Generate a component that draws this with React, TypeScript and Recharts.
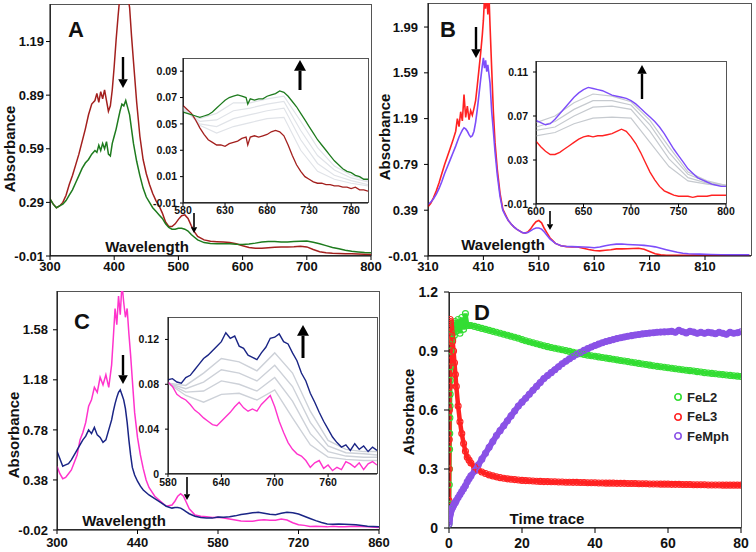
import React from 'react';
import { LineChart, Line, XAxis, YAxis } from 'recharts';

const FONT = '"Liberation Sans", Arial, sans-serif';

// ---------- panel A (main spectra) ----------
const aWave = [
  300, 305, 310, 315, 320, 325, 330, 335, 340, 345,
  350, 355, 360, 365, 370, 373, 376, 379, 382, 385,
  388, 391, 394, 397, 400, 403, 406, 409, 412, 415,
  418, 421, 424, 427, 430, 435, 440, 445, 450, 455,
  460, 465, 470, 475, 480, 485, 490, 495, 500, 505,
  510, 515, 520, 525, 530, 540, 550, 560, 570, 580,
  590, 600, 610, 620, 630, 640, 650, 660, 670, 680,
  690, 700, 710, 720, 730, 740, 750, 760, 770, 780,
  790, 800,
];
const aRed = [
  0.31, 0.28, 0.26, 0.27, 0.29, 0.33, 0.39, 0.44, 0.5, 0.56,
  0.63, 0.7, 0.78, 0.84, 0.86, 0.9, 0.85, 0.91, 0.87, 0.92,
  0.86, 0.8, 0.83, 0.92, 1.05, 1.2, 1.33, 1.45, 1.5, 1.46,
  1.52, 1.45, 1.38, 1.22, 1.08, 0.85, 0.66, 0.53, 0.45, 0.39,
  0.34, 0.3, 0.27, 0.23, 0.18, 0.155, 0.155, 0.17, 0.195, 0.215,
  0.22, 0.2, 0.16, 0.125, 0.1, 0.08, 0.072, 0.07, 0.068, 0.066,
  0.058, 0.047, 0.038, 0.034, 0.033, 0.036, 0.039, 0.04, 0.041, 0.042,
  0.045, 0.041, 0.026, 0.014, 0.008, 0.005, 0.004, 0.003, 0.002, 0.001,
  0.0, -0.001,
];
const aGreen = [
  0.31, 0.28, 0.26, 0.27, 0.28, 0.3, 0.33, 0.36, 0.4, 0.44,
  0.48, 0.51, 0.53, 0.56, 0.58, 0.57, 0.61, 0.58, 0.62, 0.59,
  0.63, 0.56, 0.55, 0.62, 0.66, 0.7, 0.75, 0.8, 0.84, 0.83,
  0.86, 0.82, 0.78, 0.7, 0.62, 0.52, 0.44, 0.37, 0.32, 0.29,
  0.26, 0.24, 0.22, 0.2, 0.17, 0.15, 0.14, 0.14, 0.145, 0.145,
  0.14, 0.13, 0.11, 0.095, 0.08, 0.065, 0.06, 0.058, 0.058, 0.058,
  0.056, 0.055, 0.057, 0.062, 0.068, 0.071, 0.071, 0.068, 0.069, 0.071,
  0.073, 0.074, 0.067, 0.058, 0.048, 0.038, 0.03, 0.022, 0.016, 0.013,
  0.01, 0.008,
];
const aXTicks = [300, 400, 500, 600, 700, 800];
const aYTicks = [-0.01, 0.29, 0.59, 0.89, 1.19];

// panel A inset
const aInWave = [
  580, 585, 590, 595, 600, 605, 610, 615, 620, 625,
  630, 635, 640, 645, 650, 655, 657, 660, 665, 670,
  675, 680, 685, 690, 695, 700, 705, 710, 715, 720,
  725, 730, 735, 740, 745, 750, 755, 760, 765, 770,
  775, 780, 785, 790, 795, 800,
];
const aInGreen = [
  0.059, 0.058, 0.057, 0.056, 0.055, 0.056, 0.057, 0.059, 0.062, 0.065,
  0.068, 0.07, 0.071, 0.072, 0.071, 0.07, 0.065, 0.069, 0.068, 0.069,
  0.069, 0.071, 0.072, 0.073, 0.075, 0.074, 0.071, 0.067, 0.063, 0.058,
  0.053, 0.048, 0.043, 0.038, 0.034, 0.03, 0.026, 0.022, 0.019, 0.016,
  0.014, 0.013, 0.011, 0.01, 0.008, 0.008,
];
const aInRed = [
  0.064, 0.061, 0.058, 0.053, 0.047, 0.042, 0.038, 0.036, 0.034, 0.034,
  0.033, 0.035, 0.036, 0.037, 0.039, 0.04, 0.034, 0.04, 0.041, 0.04,
  0.041, 0.042, 0.044, 0.045, 0.044, 0.041, 0.034, 0.026, 0.019, 0.014,
  0.01, 0.008, 0.006, 0.005, 0.005, 0.004, 0.004, 0.003, 0.003, 0.002,
  0.002, 0.001, 0.002, 0.0, 0.0, -0.001,
];
const aGrayWave = [580, 600, 620, 640, 660, 680, 700, 720, 740, 760, 780, 800];
const aGrays = [
  [0.06, 0.054, 0.058, 0.066, 0.066, 0.069, 0.071, 0.052, 0.032, 0.018, 0.011, 0.007],
  [0.061, 0.052, 0.053, 0.06, 0.062, 0.065, 0.067, 0.045, 0.026, 0.015, 0.009, 0.006],
  [0.062, 0.05, 0.048, 0.054, 0.057, 0.06, 0.062, 0.038, 0.02, 0.011, 0.007, 0.004],
  [0.063, 0.049, 0.043, 0.048, 0.051, 0.054, 0.055, 0.03, 0.014, 0.008, 0.005, 0.003],
];
const aInXTicks = [580, 630, 680, 730, 780];
const aInYTicks = [-0.01, 0.01, 0.03, 0.05, 0.07, 0.09];

// ---------- panel B ----------
const bWave = [
  310, 315, 320, 325, 330, 335, 340, 345, 350, 355,
  360, 363, 366, 369, 372, 375, 378, 381, 384, 387,
  390, 393, 396, 399, 402, 405, 408, 410, 412, 414,
  416, 418, 420, 422, 425, 428, 431, 435, 440, 445,
  450, 455, 460, 465, 470, 475, 480, 485, 490, 495,
  500, 505, 510, 515, 520, 525, 530, 540, 550, 560,
  570, 580, 590, 600, 610, 620, 630, 640, 650, 660,
  670, 680, 690, 700, 710, 720, 730, 740, 750, 760,
  770, 780, 790, 800, 820, 840, 860, 890,
];
const bRed = [
  0.42, 0.45, 0.5, 0.56, 0.63, 0.71, 0.79, 0.86, 0.93, 1.0,
  1.08, 1.19, 1.12, 1.25, 1.17, 1.4, 1.2, 1.3, 1.18, 1.26,
  1.22, 1.28, 1.35, 1.48, 1.62, 1.76, 1.92, 2.05, 2.25, 2.15,
  2.3, 2.1, 2.28, 2.0, 1.62, 1.25, 0.98, 0.75, 0.54, 0.4,
  0.35, 0.3, 0.27, 0.245, 0.225, 0.21, 0.195, 0.19, 0.2, 0.225,
  0.26, 0.29, 0.3, 0.28, 0.23, 0.19, 0.15, 0.1, 0.08, 0.072,
  0.07, 0.068, 0.058, 0.047, 0.038, 0.035, 0.04, 0.045, 0.052, 0.052,
  0.053, 0.056, 0.058, 0.049, 0.03, 0.01, 0.0, -0.003, -0.003, -0.003,
  -0.003, -0.003, -0.002, -0.002, -0.004, -0.005, -0.006, -0.006,
];
const bPurple = [
  0.44, 0.46, 0.49, 0.53, 0.58, 0.64, 0.71, 0.77, 0.83, 0.89,
  0.95, 0.99, 1.03, 1.06, 1.09, 1.11, 1.1, 1.08, 1.05, 1.03,
  1.04, 1.08, 1.16, 1.27, 1.4, 1.53, 1.65, 1.72, 1.63, 1.7,
  1.6, 1.66, 1.58, 1.5, 1.25, 1.08, 0.9, 0.7, 0.51, 0.39,
  0.34, 0.3, 0.27, 0.245, 0.225, 0.21, 0.195, 0.19, 0.195, 0.21,
  0.225, 0.235, 0.235, 0.225, 0.2, 0.17, 0.14, 0.1, 0.08, 0.073,
  0.072, 0.07, 0.068, 0.066, 0.062, 0.068, 0.08, 0.088, 0.094, 0.095,
  0.091, 0.088, 0.086, 0.083, 0.078, 0.07, 0.058, 0.045, 0.033, 0.022,
  0.014, 0.009, 0.007, 0.006, 0.003, 0.001, 0.0, 0.0,
];
const bXTicks = [310, 410, 510, 610, 710, 810];
const bYTicks = [-0.01, 0.39, 0.79, 1.19, 1.59, 1.99];

// panel B inset
const bInWave = [
  600, 605, 610, 615, 620, 625, 630, 635, 640, 645,
  650, 655, 660, 665, 670, 675, 680, 685, 690, 695,
  700, 705, 710, 715, 720, 725, 730, 735, 740, 745,
  750, 755, 760, 765, 770, 775, 780, 785, 790, 795,
  800,
];
const bInRed = [
  0.047, 0.042, 0.038, 0.035, 0.035, 0.037, 0.04, 0.043, 0.046, 0.049,
  0.051, 0.052, 0.051, 0.052, 0.052, 0.053, 0.054, 0.056, 0.058, 0.056,
  0.051, 0.045, 0.037, 0.028, 0.019, 0.012, 0.006, 0.002, 0.0, -0.002,
  -0.003, -0.003, -0.003, -0.004, -0.003, -0.003, -0.003, -0.002, -0.002, -0.002,
  -0.002,
];
const bInPurple = [
  0.066, 0.064, 0.062, 0.063, 0.067, 0.072, 0.077, 0.082, 0.087, 0.091,
  0.094, 0.096, 0.095, 0.094, 0.093, 0.091, 0.089, 0.088, 0.087, 0.086,
  0.084, 0.081, 0.077, 0.073, 0.069, 0.065, 0.06, 0.054, 0.047, 0.04,
  0.034, 0.028, 0.022, 0.018, 0.014, 0.012, 0.01, 0.008, 0.007, 0.006,
  0.006,
];
const bGrayWave = [600, 620, 640, 660, 680, 700, 720, 740, 760, 780, 800];
const bGrays = [
  [0.064, 0.07, 0.082, 0.09, 0.088, 0.083, 0.066, 0.042, 0.019, 0.011, 0.007],
  [0.06, 0.065, 0.076, 0.084, 0.084, 0.08, 0.062, 0.037, 0.017, 0.01, 0.007],
  [0.057, 0.06, 0.07, 0.078, 0.079, 0.076, 0.056, 0.031, 0.014, 0.009, 0.007],
  [0.052, 0.055, 0.063, 0.068, 0.069, 0.068, 0.046, 0.024, 0.011, 0.008, 0.006],
];
const bInXTicks = [600, 650, 700, 750, 800];
const bInYTicks = [-0.01, 0.03, 0.07, 0.11];

// ---------- panel C ----------
const cWave = [
  300, 305, 310, 315, 320, 325, 330, 335, 340, 345,
  350, 355, 360, 365, 370, 375, 380, 385, 390, 395,
  398, 401, 404, 407, 410, 413, 416, 419, 422, 425,
  428, 431, 435, 440, 445, 450, 455, 460, 470, 480,
  490, 500, 505, 510, 515, 520, 525, 530, 540, 550,
  560, 570, 580, 590, 600, 610, 620, 630, 640, 650,
  660, 670, 680, 690, 700, 710, 720, 730, 740, 750,
  760, 770, 780, 790, 800, 820, 840, 860,
];
const cMagenta = [
  0.49, 0.43, 0.39, 0.4, 0.43, 0.46, 0.52, 0.58, 0.7, 0.76,
  0.84, 0.97, 1.02, 1.12, 1.08, 1.2, 1.14, 1.22, 1.12, 1.3,
  1.52, 1.75, 1.62, 1.85, 1.7, 1.95, 1.8, 1.68, 1.75, 1.55,
  1.38, 1.18, 0.92, 0.72, 0.58, 0.47, 0.38, 0.32, 0.25, 0.21,
  0.17, 0.18, 0.21, 0.25, 0.27, 0.25, 0.2, 0.15, 0.1, 0.09,
  0.085, 0.08, 0.082, 0.075, 0.068, 0.06, 0.052, 0.05, 0.05, 0.057,
  0.062, 0.058, 0.058, 0.068, 0.06, 0.038, 0.022, 0.017, 0.008, 0.01,
  0.007, 0.005, 0.01, 0.006, 0.005, 0.009, 0.005, 0.0,
];
const cNavy = [
  0.61, 0.55, 0.49, 0.5, 0.51, 0.54, 0.58, 0.62, 0.66, 0.7,
  0.73, 0.78, 0.75, 0.8, 0.74, 0.72, 0.68, 0.7, 0.78, 0.86,
  0.93, 0.99, 1.04, 1.08, 1.1, 1.06, 1.02, 0.95, 0.84, 0.7,
  0.58, 0.48, 0.42, 0.37, 0.33, 0.3, 0.28, 0.26, 0.23, 0.2,
  0.17, 0.155, 0.16, 0.16, 0.155, 0.14, 0.125, 0.11, 0.09, 0.08,
  0.076, 0.075, 0.084, 0.082, 0.086, 0.093, 0.103, 0.11, 0.118, 0.121,
  0.114, 0.106, 0.102, 0.113, 0.122, 0.118, 0.108, 0.09, 0.072, 0.055,
  0.04, 0.028, 0.026, 0.027, 0.025, 0.022, 0.01, 0.005,
];
const cXTicks = [300, 440, 580, 720, 860];
const cYTicks = [-0.02, 0.38, 0.78, 1.18, 1.58];

// panel C inset
const cInWave = [
  580, 585, 590, 595, 600, 605, 610, 615, 620, 625,
  630, 635, 640, 645, 650, 655, 660, 665, 670, 675,
  680, 685, 690, 695, 700, 705, 710, 715, 720, 725,
  730, 735, 740, 745, 750, 755, 760, 765, 770, 775,
  780, 785, 790, 795, 800, 805, 810, 815,
];
const cInNavy = [
  0.084, 0.085, 0.082, 0.081, 0.086, 0.088, 0.093, 0.098, 0.103, 0.106,
  0.11, 0.114, 0.118, 0.126, 0.121, 0.123, 0.114, 0.112, 0.106, 0.104,
  0.102, 0.108, 0.113, 0.121, 0.122, 0.125, 0.118, 0.116, 0.108, 0.101,
  0.09, 0.083, 0.072, 0.064, 0.055, 0.047, 0.04, 0.033, 0.028, 0.024,
  0.026, 0.021, 0.027, 0.022, 0.025, 0.02, 0.024, 0.021,
];
const cInMagenta = [
  0.082, 0.078, 0.071, 0.068, 0.066, 0.062, 0.057, 0.054, 0.05, 0.047,
  0.044, 0.043, 0.047, 0.051, 0.055, 0.06, 0.064, 0.059, 0.056, 0.058,
  0.056, 0.062, 0.066, 0.07, 0.06, 0.047, 0.037, 0.028, 0.022, 0.018,
  0.016, 0.012, 0.006, 0.01, 0.012, 0.005, 0.008, 0.003, 0.006, 0.004,
  0.011, 0.009, 0.006, 0.01, 0.004, 0.009, 0.011, 0.008,
];
const cGrayWave = [580, 600, 620, 640, 660, 680, 700, 720, 740, 760, 780, 800, 815];
const cGrays = [
  [0.081, 0.079, 0.09, 0.103, 0.1, 0.092, 0.108, 0.09, 0.056, 0.03, 0.022, 0.02, 0.02],
  [0.081, 0.076, 0.082, 0.093, 0.09, 0.083, 0.097, 0.078, 0.046, 0.025, 0.019, 0.018, 0.017],
  [0.081, 0.073, 0.074, 0.083, 0.08, 0.074, 0.086, 0.065, 0.036, 0.02, 0.016, 0.015, 0.015],
  [0.081, 0.07, 0.064, 0.071, 0.072, 0.066, 0.075, 0.05, 0.026, 0.015, 0.013, 0.012, 0.012],
];
const cInXTicks = [580, 640, 700, 760];
const cInYTicks = [0, 0.04, 0.08, 0.12];

// ---------- panel D (time trace) ----------
const dTime = [
  0, 0.04, 0.08, 0.12, 0.16, 0.2, 0.24, 0.28, 0.32, 0.36,
  0.4, 0.5, 0.6, 0.8, 1, 1.25, 1.5, 1.75, 2, 2.5,
  3, 3.5, 4, 4.5, 5, 5.5, 6, 7, 8, 9,
  10, 11, 12, 13, 14, 15, 16, 17, 18, 19,
  20, 21, 22, 23, 24, 25, 26, 27, 28, 29,
  30, 31, 32, 33, 34, 35, 36, 37, 38, 39,
  40, 41, 42, 43, 44, 45, 46, 47, 48, 49,
  50, 51, 52, 53, 54, 55, 56, 57, 58, 59,
  60, 61, 62, 63, 64, 65, 66, 67, 68, 69,
  70, 71, 72, 73, 74, 75, 76, 77, 78, 79,
  80,
];
const dFeL2 = [
  0.02, 0.12, 0.22, 0.3, 0.4, 0.48, 0.56, 0.62, 0.68, 0.75,
  0.82, 0.9, 0.95, 1.0, 0.96, 1.04, 0.98, 1.05, 1.0, 1.06,
  0.99, 1.07, 1.01, 1.09, 1.03, 1.03, 1.03, 1.025, 1.02, 1.015,
  1.01, 1.005, 1.0, 0.995, 0.99, 0.985, 0.98, 0.975, 0.97, 0.965,
  0.958, 0.952, 0.947, 0.942, 0.937, 0.932, 0.927, 0.922, 0.918, 0.914,
  0.91, 0.906, 0.902, 0.898, 0.894, 0.89, 0.886, 0.882, 0.879, 0.876,
  0.873, 0.87, 0.867, 0.864, 0.861, 0.858, 0.855, 0.852, 0.849, 0.846,
  0.843, 0.84, 0.837, 0.834, 0.831, 0.828, 0.825, 0.822, 0.82, 0.817,
  0.815, 0.812, 0.81, 0.807, 0.805, 0.802, 0.8, 0.798, 0.795, 0.793,
  0.79, 0.788, 0.786, 0.784, 0.782, 0.78, 0.778, 0.776, 0.774, 0.772,
  0.77,
];
const dFeL3 = [
  0.14, 0.3, 0.45, 0.6, 0.72, 0.85, 0.95, 1.02, 1.06, 1.05,
  1.04, 1.02, 1.0, 0.98, 0.95, 0.9, 0.84, 0.78, 0.72, 0.62,
  0.54, 0.48, 0.43, 0.39, 0.36, 0.345, 0.33, 0.31, 0.295, 0.285,
  0.277, 0.27, 0.265, 0.26, 0.256, 0.253, 0.25, 0.248, 0.246, 0.244,
  0.242, 0.241, 0.24, 0.239, 0.238, 0.237, 0.236, 0.236, 0.235, 0.235,
  0.234, 0.234, 0.233, 0.233, 0.232, 0.232, 0.231, 0.231, 0.23, 0.23,
  0.23, 0.229, 0.229, 0.228, 0.228, 0.228, 0.227, 0.227, 0.227, 0.226,
  0.226, 0.226, 0.225, 0.225, 0.225, 0.224, 0.224, 0.224, 0.223, 0.223,
  0.223, 0.222, 0.222, 0.222, 0.221, 0.221, 0.221, 0.22, 0.22, 0.22,
  0.22, 0.219, 0.219, 0.219, 0.219, 0.218, 0.218, 0.218, 0.218, 0.218,
  0.218,
];
const dFeMph = [
  0.02, 0.03, 0.04, 0.05, 0.055, 0.06, 0.065, 0.07, 0.075, 0.08,
  0.08, 0.085, 0.09, 0.1, 0.105, 0.115, 0.125, 0.13, 0.14, 0.155,
  0.17, 0.185, 0.2, 0.215, 0.235, 0.25, 0.265, 0.29, 0.32, 0.35,
  0.38, 0.41, 0.44, 0.47, 0.495, 0.52, 0.545, 0.57, 0.595, 0.62,
  0.64, 0.66, 0.68, 0.7, 0.72, 0.74, 0.76, 0.775, 0.79, 0.805,
  0.82, 0.835, 0.848, 0.86, 0.872, 0.883, 0.893, 0.903, 0.912, 0.92,
  0.928, 0.935, 0.942, 0.948, 0.953, 0.958, 0.963, 0.967, 0.971, 0.975,
  0.978, 0.981, 0.984, 0.987, 0.989, 0.991, 0.993, 0.995, 0.996, 0.997,
  0.998, 1.0, 0.995, 1.005, 0.998, 0.992, 1.0, 0.996, 0.99, 0.995,
  0.99, 0.995, 0.992, 0.988, 0.995, 0.99, 0.985, 0.995, 0.99, 0.993,
  0.998,
];
const dSeries = [
  { name: 'FeL2', values: dFeL2, color: '#33dd33', band: 4.5 },
  { name: 'FeL3', values: dFeL3, color: '#ff2222', band: 4.5 },
  { name: 'FeMph', values: dFeMph, color: '#8a52e6', band: 6 },
];
const dXTicks = [0, 20, 40, 60, 80];
const dYTicks = [0, 0.3, 0.6, 0.9, 1.2];

const xy = (xs: number[], ys: number[]) => xs.map((x, i) => ({ x, y: ys[i] }));

const tick = (size: number) => ({ fontSize: size, fontWeight: 700, fill: '#111', fontFamily: FONT });

type Rect = { x0: number; y0: number; x1: number; y1: number };

function Frame({ r, yw, xh, inset, children }: { r: Rect; yw: number; xh: number; inset?: boolean; children: React.ReactNode }) {
  const pad = 10; // room above the top tick label
  const padR = 16; // room for the last x tick label
  return (
    <>
      <div
        style={{
          position: 'absolute', left: r.x0, top: r.y0, width: r.x1 - r.x0 + 1, height: r.y1 - r.y0,
          boxSizing: 'border-box', border: '1px solid #555', background: inset ? '#fff' : 'transparent',
        }}
      />
      <div style={{ position: 'absolute', left: r.x0 - yw, top: r.y0 - pad }}>
        <LineChart
          width={r.x1 - r.x0 + yw + padR}
          height={r.y1 - r.y0 + pad + xh}
          margin={{ top: pad, right: padR, bottom: 0, left: 0 }}
        >
          {children}
        </LineChart>
      </div>
    </>
  );
}

function Text({ x, y, size, rotate, children }: { x: number; y: number; size: number; rotate?: boolean; children: React.ReactNode }) {
  return (
    <div
      style={{
        position: 'absolute', left: x, top: y, fontSize: size, fontWeight: 700, fontFamily: FONT,
        color: '#111', whiteSpace: 'nowrap', lineHeight: 1,
        transform: `translate(-50%, -50%)${rotate ? ' rotate(-90deg)' : ''}`,
      }}
    >
      {children}
    </div>
  );
}

// vertical arrows: x, tail y, tip y, stroke width
const arrows = [
  { x: 123, from: 57, to: 88, w: 2.4 },
  { x: 300, from: 90, to: 60, w: 3 },
  { x: 194, from: 213, to: 233, w: 1.6 },
  { x: 476, from: 27, to: 58, w: 2.4 },
  { x: 642, from: 99, to: 65, w: 2.4 },
  { x: 550, from: 211, to: 230, w: 1.6 },
  { x: 123, from: 355, to: 384, w: 2.4 },
  { x: 303, from: 358, to: 325, w: 3 },
  { x: 187, from: 477, to: 500, w: 1.6 },
];

function Arrows() {
  return (
    <svg width={756} height={552} style={{ position: 'absolute', left: 0, top: 0, pointerEvents: 'none' }}>
      {arrows.map((a, i) => {
        const dir = a.to > a.from ? 1 : -1;
        const hl = a.w * 3.6;
        const hw = a.w * 2;
        const base = a.to - dir * hl;
        return (
          <g key={i}>
            <line x1={a.x} y1={a.from} x2={a.x} y2={base} stroke="#000" strokeWidth={a.w} />
            <polygon points={`${a.x - hw},${base} ${a.x + hw},${base} ${a.x},${a.to}`} fill="#000" />
          </g>
        );
      })}
    </svg>
  );
}

const axisProps = { axisLine: { stroke: '#000' }, tickLine: { stroke: '#000' }, allowDataOverflow: true, interval: 0 as const };

export default function App() {
  const main = tick(13);
  const small = tick(10.5);
  return (
    <div style={{ position: 'absolute', left: 0, top: 0, width: 756, height: 552, background: '#fff', overflow: 'hidden' }}>
      {/* Panel A */}
      <Frame r={{ x0: 50, y0: 4, x1: 371, y1: 256 }} yw={50} xh={30}>
        <XAxis type="number" dataKey="x" domain={[300, 800]} ticks={aXTicks} height={30} tick={main} tickSize={4} tickMargin={2} {...axisProps} />
        <YAxis type="number" domain={[-0.01, 1.4]} ticks={aYTicks} width={50} tick={main} tickSize={4} tickMargin={2} {...axisProps} />
        <Line data={xy(aWave, aRed)} dataKey="y" stroke="#a3201e" strokeWidth={1.5} dot={false} isAnimationActive={false} />
        <Line data={xy(aWave, aGreen)} dataKey="y" stroke="#1e7b1e" strokeWidth={1.5} dot={false} isAnimationActive={false} />
      </Frame>
      <Frame r={{ x0: 183, y0: 58, x1: 368, y1: 203 }} yw={40} xh={20} inset>
        <XAxis type="number" dataKey="x" domain={[580, 800]} ticks={aInXTicks} height={20} tick={small} tickSize={3} tickMargin={1} {...axisProps} />
        <YAxis type="number" domain={[-0.01, 0.1]} ticks={aInYTicks} width={40} tick={small} tickSize={3} tickMargin={3} {...axisProps} />
        {aGrays.map((g, i) => (
          <Line key={i} data={xy(aGrayWave, g)} dataKey="y" stroke="#e0e3e8" strokeWidth={1.2} dot={false} isAnimationActive={false} />
        ))}
        <Line data={xy(aInWave, aInRed)} dataKey="y" stroke="#a3201e" strokeWidth={1.3} dot={false} isAnimationActive={false} />
        <Line data={xy(aInWave, aInGreen)} dataKey="y" stroke="#1e7b1e" strokeWidth={1.3} dot={false} isAnimationActive={false} />
      </Frame>

      {/* Panel B */}
      <Frame r={{ x0: 428, y0: 3, x1: 751, y1: 256 }} yw={50} xh={30}>
        <XAxis type="number" dataKey="x" domain={[310, 893]} ticks={bXTicks} height={30} tick={main} tickSize={4} tickMargin={2} {...axisProps} />
        <YAxis type="number" domain={[-0.01, 2.2]} ticks={bYTicks} width={50} tick={main} tickSize={4} tickMargin={6} {...axisProps} />
        <Line data={xy(bWave, bRed)} dataKey="y" stroke="#ff2222" strokeWidth={1.6} dot={false} isAnimationActive={false} />
        <Line data={xy(bWave, bPurple)} dataKey="y" stroke="#7d4dfa" strokeWidth={1.6} dot={false} isAnimationActive={false} />
      </Frame>
      <Frame r={{ x0: 536, y0: 61, x1: 726, y1: 204 }} yw={40} xh={20} inset>
        <XAxis type="number" dataKey="x" domain={[600, 800]} ticks={bInXTicks} height={20} tick={small} tickSize={3} tickMargin={1} {...axisProps} />
        <YAxis type="number" domain={[-0.01, 0.12]} ticks={bInYTicks} width={40} tick={small} tickSize={3} tickMargin={5} {...axisProps} />
        {bGrays.map((g, i) => (
          <Line key={i} data={xy(bGrayWave, g)} dataKey="y" stroke="#c6cacf" strokeWidth={1.2} dot={false} isAnimationActive={false} />
        ))}
        <Line data={xy(bInWave, bInRed)} dataKey="y" stroke="#ff2222" strokeWidth={1.4} dot={false} isAnimationActive={false} />
        <Line data={xy(bInWave, bInPurple)} dataKey="y" stroke="#7d4dfa" strokeWidth={1.4} dot={false} isAnimationActive={false} />
      </Frame>

      {/* Panel C */}
      <Frame r={{ x0: 57, y0: 291, x1: 379, y1: 530 }} yw={50} xh={22}>
        <XAxis type="number" dataKey="x" domain={[300, 860]} ticks={cXTicks} height={22} tick={main} tickSize={4} tickMargin={4} {...axisProps} />
        <YAxis type="number" domain={[-0.02, 1.89]} ticks={cYTicks} width={50} tick={main} tickSize={4} tickMargin={5} {...axisProps} />
        <Line data={xy(cWave, cMagenta)} dataKey="y" stroke="#ff33cc" strokeWidth={1.5} dot={false} isAnimationActive={false} />
        <Line data={xy(cWave, cNavy)} dataKey="y" stroke="#1a2585" strokeWidth={1.5} dot={false} isAnimationActive={false} />
      </Frame>
      <Frame r={{ x0: 168, y0: 317, x1: 377, y1: 474 }} yw={40} xh={20} inset>
        <XAxis type="number" dataKey="x" domain={[580, 815]} ticks={cInXTicks} height={20} tick={small} tickSize={3} tickMargin={2} {...axisProps} />
        <YAxis type="number" domain={[0, 0.14]} ticks={cInYTicks} width={40} tick={small} tickSize={3} tickMargin={6} {...axisProps} />
        {cGrays.map((g, i) => (
          <Line key={i} data={xy(cGrayWave, g)} dataKey="y" stroke="#cdd1d8" strokeWidth={1.4} dot={false} isAnimationActive={false} />
        ))}
        <Line data={xy(cInWave, cInMagenta)} dataKey="y" stroke="#ff33cc" strokeWidth={1.4} dot={false} isAnimationActive={false} />
        <Line data={xy(cInWave, cInNavy)} dataKey="y" stroke="#1a2585" strokeWidth={1.4} dot={false} isAnimationActive={false} />
      </Frame>

      {/* Panel D */}
      <Frame r={{ x0: 449, y0: 292, x1: 741, y1: 528 }} yw={50} xh={28}>
        <XAxis type="number" dataKey="x" domain={[0, 80]} ticks={dXTicks} height={28} tick={tick(14)} tickSize={5} tickMargin={5} {...axisProps} />
        <YAxis type="number" domain={[0, 1.2]} ticks={dYTicks} width={50} tick={tick(14)} tickSize={5} tickMargin={6} {...axisProps} />
        {dSeries.map((s) => (
          <Line
            key={s.name}
            data={xy(dTime, s.values)}
            dataKey="y"
            name={s.name}
            stroke={s.color}
            strokeWidth={s.band}
            dot={{ r: 3, fill: 'none', stroke: s.color, strokeWidth: 1.1 }}
            isAnimationActive={false}
          />
        ))}
      </Frame>

      {/* legend D */}
      {dSeries.map((s, i) => (
        <div key={s.name} style={{ position: 'absolute', left: 673, top: 389 + i * 19.5, height: 16, display: 'flex', alignItems: 'center' }}>
          <svg width={10} height={10} style={{ marginRight: 4 }}>
            <circle cx={5} cy={5} r={3.2} fill="none" stroke={s.color} strokeWidth={1.6} />
          </svg>
          <span style={{ fontSize: 13, fontWeight: 700, fontFamily: FONT, color: '#222' }}>{s.name}</span>
        </div>
      ))}

      {/* panel letters and axis titles */}
      <Text x={76} y={30} size={22}>A</Text>
      <Text x={448} y={30} size={22}>B</Text>
      <Text x={82} y={322} size={22}>C</Text>
      <Text x={482} y={313} size={22}>D</Text>
      <Text x={147} y={246} size={15}>Wavelength</Text>
      <Text x={503} y={244} size={15}>Wavelength</Text>
      <Text x={124} y={520} size={15}>Wavelength</Text>
      <Text x={547} y={518} size={15}>Time trace</Text>
      <Text x={9} y={149} size={15} rotate>Absorbance</Text>
      <Text x={384} y={137} size={15} rotate>Absorbance</Text>
      <Text x={13} y={435} size={15} rotate>Absorbance</Text>
      <Text x={408} y={412} size={15} rotate>Absorbance</Text>

      <Arrows />
    </div>
  );
}
